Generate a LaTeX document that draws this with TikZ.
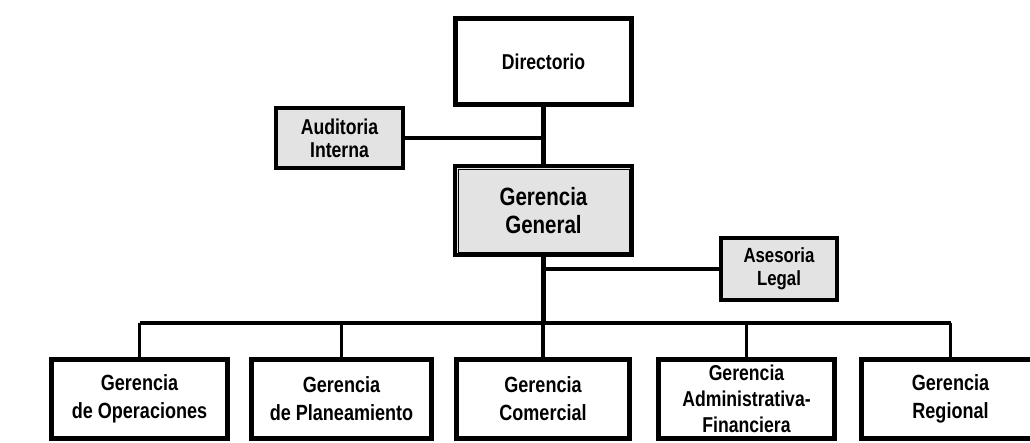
\documentclass[tikz,border=0pt]{standalone}
\usepackage{fontspec}
\setmainfont[FakeStretch=0.82]{Liberation Sans}
\begin{document}
\begin{tikzpicture}[x=1pt,y=-1pt,
  box/.style={draw=black,line width=4.5pt,rectangle,inner sep=0pt,align=center,text=black},
  shaded/.style={box,fill=gray!22,line width=4pt},
  dirfont/.style={font=\fontsize{21.5}{27}\selectfont\bfseries},
  ggfont/.style={font=\fontsize{25}{28}\selectfont\bfseries},
  audfont/.style={font=\fontsize{21.5}{23}\selectfont\bfseries},
  asefont/.style={font=\fontsize{20.5}{23}\selectfont\bfseries},
  botfont/.style={font=\fontsize{22}{28}\selectfont\bfseries},
  threefont/.style={font=\fontsize{21.5}{26}\selectfont\bfseries},
  conn/.style={draw=black,line width=3.4pt},
  mainconn/.style={draw=black,line width=4.4pt},
  inner/.style={draw=black,line width=0.8pt}]
\useasboundingbox (0,0) rectangle (1030,442);
\begin{scope}
\clip (0,0) rectangle (1030,442);
% top boxes
\node[box,dirfont,minimum width=177pt,minimum height=87pt] (dir) at (543.5,61.5) {Directorio};
\node[shaded,audfont,minimum width=127pt,minimum height=60pt] (aud) at (339.5,138) {Auditoria\\Interna};
\node[shaded,ggfont,minimum width=177pt,minimum height=89pt] (gg) at (543.5,210.5) {Gerencia\\General};
\node[shaded,asefont,minimum width=116pt,minimum height=62pt] (ase) at (779,269) {Asesoria\\Legal};
% bottom boxes
\node[box,botfont,minimum width=177pt,minimum height=80pt] (b1) at (139.5,399) {Gerencia\\de Operaciones};
\node[box,botfont,minimum width=181pt,minimum height=80pt] (b2) at (341.5,399) {Gerencia\\de Planeamiento};
\node[box,botfont,minimum width=174pt,minimum height=80pt] (b3) at (543,399) {Gerencia\\Comercial};
\node[box,threefont,minimum width=177pt,minimum height=80pt,text depth=0pt] (b4) at (746.5,399) {Gerencia\\Administrativa-\\Financiera};
\node[box,botfont,minimum width=179pt,minimum height=80pt] (b5) at (950.5,399) {Gerencia\\Regional};
% inner thin lines
\foreach \n in {dir,gg,b1,b2,b3,b4,b5}{
  \draw[inner] ([shift={(5pt,-5pt)}]\n.north west) rectangle ([shift={(-5pt,5pt)}]\n.south east);
}
% connectors
\draw[mainconn] (dir.south) -- (gg.north);
\draw[conn] (aud.east) -- (aud.east -| dir.south);
\coordinate (bus) at (543.5,323);
\draw[mainconn] (gg.south) -- (bus);
\draw[conn] (ase.west) -- (ase.west -| gg.south);
\draw[conn] (b1.north |- bus) -- (b5.north |- bus);
\foreach \n in {b1,b2,b3,b4,b5}{
  \draw[conn] (\n.north |- bus) -- (\n.north);
}
\end{scope}
\end{tikzpicture}
\end{document}
